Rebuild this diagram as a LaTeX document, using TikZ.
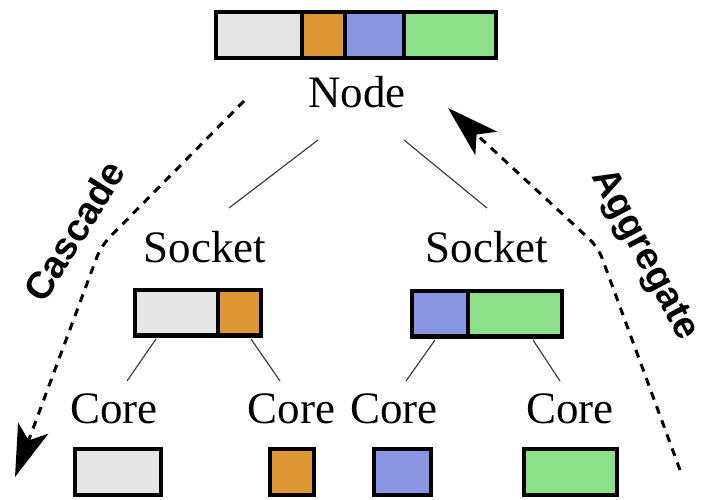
\documentclass[tikz,border=0pt]{standalone}
\usepackage{fontspec}
\setmainfont{Liberation Serif}
\newfontfamily\tagfont{Liberation Sans}
\usetikzlibrary{arrows.meta,positioning}
\definecolor{cgray}{RGB}{229,229,229}
\definecolor{corange}{RGB}{220,150,50}
\definecolor{cblue}{RGB}{138,150,226}
\definecolor{cgreen}{RGB}{140,224,138}

\begin{document}
\begin{tikzpicture}[x=0.5pt,y=-0.5pt,
    cell/.style={draw,line width=2.2pt,inner sep=0pt,outer sep=0pt,minimum height=22.8pt},
    lvl/.style={font=\fontsize{22.5}{27}\selectfont,inner sep=0pt,anchor=base},
    link/.style={black!75,line width=0.6pt},
    flow/.style={dash pattern=on 4pt off 3.5pt,line width=1.5pt,rounded corners=6pt,
      -{Stealth[length=26pt,width=16pt,inset=6.5pt]}},
    tag/.style={font=\tagfont\bfseries\fontsize{19}{22}\selectfont,inner sep=0pt}]
  \useasboundingbox (0,0) rectangle (702,499);

  % node level
  \node[cell,fill=cgray,minimum width=43pt] (nA) at (259,35) {};
  \node[cell,fill=corange,minimum width=21.5pt,right=0pt of nA] (nB) {};
  \node[cell,fill=cblue,minimum width=29.5pt,right=0pt of nB] (nC) {};
  \node[cell,fill=cgreen,minimum width=46pt,right=0pt of nC] (nD) {};
  \node[lvl] (node) at (357,107) {Node};

  % socket level
  \node[cell,fill=cgray,minimum width=41.5pt] (sA) at (176.5,312.5) {};
  \node[cell,fill=corange,minimum width=21.5pt,right=0pt of sA] (sB) {};
  \node[cell,fill=cblue,minimum width=28pt] (sC) at (440,313.5) {};
  \node[cell,fill=cgreen,minimum width=47pt,right=0pt of sC] (sD) {};
  \node[lvl] (sockL) at (205,262) {Socket};
  \node[lvl] (sockR) at (487,262) {Socket};

  % core level
  \node[cell,fill=cgray,minimum width=43pt] (cA) at (118,472) {};
  \node[cell,fill=corange,minimum width=22pt] (cB) at (292,472) {};
  \node[cell,fill=cblue,minimum width=28.5pt] (cC) at (402.5,472) {};
  \node[cell,fill=cgreen,minimum width=46.5pt] (cD) at (570.5,472) {};
  \node[lvl] (core1) at (114,423) {Core};
  \node[lvl] (core2) at (291.5,423) {Core};
  \node[lvl] (core3) at (394,423) {Core};
  \node[lvl] (core4) at (570,423) {Core};

  % tree lines
  \coordinate (n1) at (318,140); \coordinate (n2) at (229,208);
  \coordinate (n3) at (404,140); \coordinate (n4) at (487,208);
  \draw[link] (n1) -- (n2);
  \draw[link] (n3) -- (n4);
  \coordinate (s1) at (156,339); \coordinate (s2) at (127,381);
  \coordinate (s3) at (251,339); \coordinate (s4) at (280,381);
  \coordinate (s5) at (435,340); \coordinate (s6) at (406,381);
  \coordinate (s7) at (533,340); \coordinate (s8) at (560,381);
  \draw[link] (s1) -- (s2);
  \draw[link] (s3) -- (s4);
  \draw[link] (s5) -- (s6);
  \draw[link] (s7) -- (s8);

  % cascade / aggregate
  \coordinate (c1) at (244,101); \coordinate (c2) at (101,246); \coordinate (c3) at (15,477);
  \coordinate (a1) at (680,470); \coordinate (a2) at (598,247); \coordinate (a3) at (448,108);
  \draw[flow] (c1) -- (c2) -- (c3);
  \draw[flow] (a1) -- (a2) -- (a3);
  \node[tag,rotate=58] (cascade) at (74,231) {Cascade};
  \node[tag,rotate=-62] (aggregate) at (644,255) {Aggregate};
\end{tikzpicture}
\end{document}
